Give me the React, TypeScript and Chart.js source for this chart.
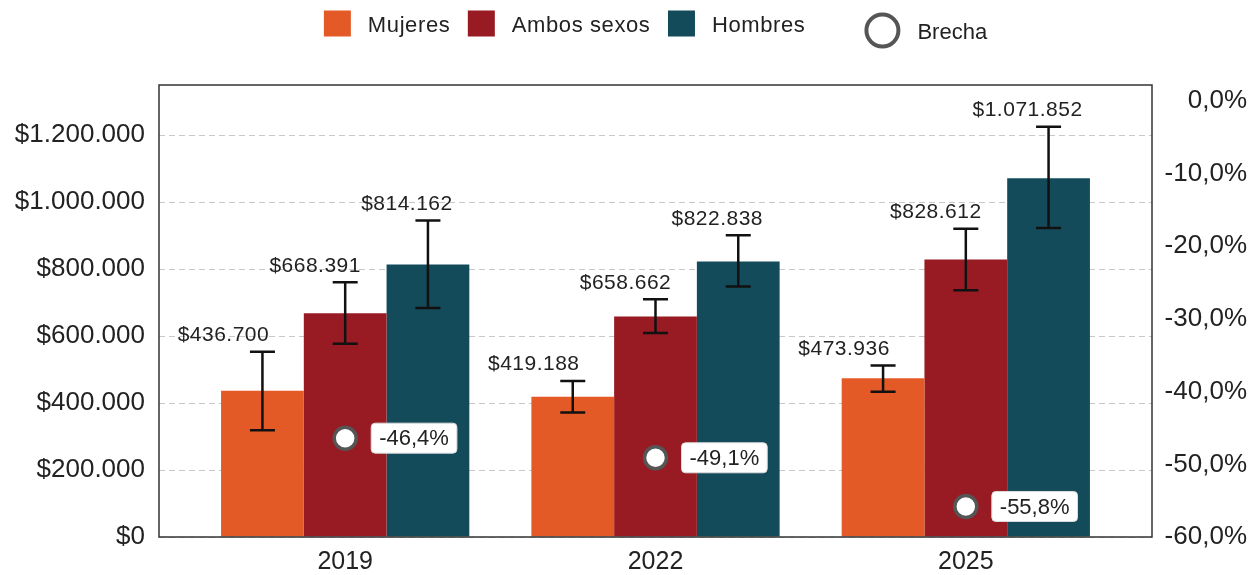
import React, { useEffect, useRef } from "react";
import { Chart, registerables } from "chart.js";

Chart.register(...registerables);

// ---- Data ----
const years = ["2019", "2022", "2025"];
const mujeres = [436700, 419188, 473936];
const ambos = [668391, 658662, 828612];
const hombres = [814162, 822838, 1071852];
const mujeresLow = [319000, 372000, 434000];
const mujeresHigh = [553000, 466000, 512000];
const ambosLow = [577000, 609000, 737000];
const ambosHigh = [761000, 710000, 921000];
const hombresLow = [684000, 748000, 923000];
const hombresHigh = [945000, 901000, 1225000];
const brecha = [-46.4, -49.1, -55.8];
const leftTicks = [0, 200000, 400000, 600000, 800000, 1000000, 1200000];
const rightTicks = [-60, -50, -40, -30, -20, -10, 0];

const seriesNames = ["Mujeres", "Ambos sexos", "Hombres"];
const seriesColors = ["#E45A26", "#981A22", "#134B5B"];
const seriesValues = [mujeres, ambos, hombres];
const seriesLow = [mujeresLow, ambosLow, hombresLow];
const seriesHigh = [mujeresHigh, ambosHigh, hombresHigh];
const brechaName = "Brecha";

// ---- Styles ----
const FONT = '"Liberation Sans", Arial, Helvetica, sans-serif';
const TEXT = "#222222";
const labelShift = [-39, -30, -21];

const money = (v: number) =>
  "$" + Math.round(v).toString().replace(/\B(?=(\d{3})+(?!\d))/g, ".");
const pct = (v: number) => {
  const s = Math.abs(v) < 1e-9 ? "0.0" : v.toFixed(1);
  return s.replace(".", ",") + "%";
};

const overlayPlugin = {
  id: "overlay",
  afterDatasetsDraw(chart: any) {
    const ctx = chart.ctx as CanvasRenderingContext2D;
    const yScale = chart.scales.y;
    const area = chart.chartArea;
    ctx.save();

    // error bars + value labels
    seriesValues.forEach((vals, k) => {
      const meta = chart.getDatasetMeta(k + 1);
      meta.data.forEach((el: any, i: number) => {
        const x = el.x;
        const yl = yScale.getPixelForValue(seriesLow[k][i]);
        const yh = yScale.getPixelForValue(seriesHigh[k][i]);
        ctx.strokeStyle = "#111111";
        ctx.lineWidth = 2.5;
        ctx.beginPath();
        ctx.moveTo(x, yl);
        ctx.lineTo(x, yh);
        ctx.moveTo(x - 12.5, yl);
        ctx.lineTo(x + 12.5, yl);
        ctx.moveTo(x - 12.5, yh);
        ctx.lineTo(x + 12.5, yh);
        ctx.stroke();

        ctx.font = "21px " + FONT;
        (ctx as any).letterSpacing = "0.5px";
        ctx.fillStyle = TEXT;
        ctx.textAlign = "center";
        ctx.textBaseline = "alphabetic";
        ctx.fillText(money(vals[i]), x + labelShift[k], yh - 10.5);
      });
    });
    (ctx as any).letterSpacing = "0px";

    // brecha label boxes
    const pm = chart.getDatasetMeta(0);
    pm.data.forEach((pt: any, i: number) => {
      const txt = pct(brecha[i]);
      ctx.font = "22px " + FONT;
      const w = ctx.measureText(txt).width + 16;
      const bx = pt.x + 26;
      const by = pt.y - 15;
      ctx.beginPath();
      (ctx as any).roundRect(bx, by, w, 30, 4);
      ctx.fillStyle = "#ffffff";
      ctx.fill();
      ctx.strokeStyle = "#dddddd";
      ctx.lineWidth = 1;
      ctx.stroke();
      ctx.fillStyle = TEXT;
      ctx.textAlign = "left";
      ctx.textBaseline = "middle";
      ctx.fillText(txt, bx + 8, pt.y + 1);
    });

    // plot frame
    ctx.strokeStyle = "#333333";
    ctx.lineWidth = 1.5;
    ctx.strokeRect(area.left, area.top, area.right - area.left, area.bottom - area.top);
    ctx.restore();
  },
  afterDraw(chart: any) {
    // legend
    const ctx = chart.ctx as CanvasRenderingContext2D;
    const area = chart.chartArea;
    ctx.save();
    ctx.font = "22px " + FONT;
    (ctx as any).letterSpacing = "0.6px";
    const widths = seriesNames.map((n) => ctx.measureText(n).width);
    (ctx as any).letterSpacing = "0px";
    const bw = ctx.measureText(brechaName).width;
    const total =
      widths.reduce((a, w) => a + 27 + 17 + w, 0) + 17.5 * 2 + 59 + 36 + 17 + bw;
    let x = (area.left + area.right) / 2 - total / 2;
    seriesNames.forEach((n, k) => {
      ctx.fillStyle = seriesColors[k];
      ctx.fillRect(x, 10.5, 27, 26);
      x += 27 + 17;
      ctx.fillStyle = TEXT;
      ctx.textAlign = "left";
      ctx.textBaseline = "alphabetic";
      (ctx as any).letterSpacing = "0.6px";
      ctx.fillText(n, x, 31.5);
      (ctx as any).letterSpacing = "0px";
      x += widths[k];
      if (k < seriesNames.length - 1) x += 17.5;
    });
    x += 59;
    ctx.beginPath();
    ctx.arc(x + 18, 30.5, 16, 0, Math.PI * 2);
    ctx.fillStyle = "#ffffff";
    ctx.fill();
    ctx.lineWidth = 4;
    ctx.strokeStyle = "#555555";
    ctx.stroke();
    x += 36 + 17;
    ctx.fillStyle = TEXT;
    ctx.fillText(brechaName, x, 38.5);
    ctx.restore();
  },
};

export default function App() {
  const ref = useRef<HTMLCanvasElement | null>(null);

  useEffect(() => {
    if (!ref.current) return;
    const chart = new Chart(ref.current, {
      type: "bar",
      data: {
        datasets: [
          {
            type: "line",
            label: brechaName,
            data: brecha.map((y, i) => ({ x: i, y })),
            yAxisID: "y1",
            showLine: false,
            pointRadius: 11,
            pointBorderWidth: 3.5,
            pointBackgroundColor: "#ffffff",
            pointBorderColor: "#555555",
            order: 0,
          } as any,
          ...seriesNames.map((name, k) => ({
            type: "bar",
            label: name,
            data: seriesValues[k].map((y, i) => ({ x: i, y })),
            backgroundColor: seriesColors[k],
            yAxisID: "y",
            categoryPercentage: 0.8,
            barPercentage: 1,
            order: 1,
          })),
        ] as any,
      },
      options: {
        responsive: true,
        maintainAspectRatio: false,
        animation: false,
        layout: { padding: { top: 85, left: 0, right: 6, bottom: 0 } },
        plugins: {
          legend: { display: false },
          tooltip: { enabled: false },
        },
        scales: {
          x: {
            type: "linear",
            min: -0.6,
            max: 2.6,
            offset: false,
            grid: { display: false, offset: false } as any,
            border: { display: false },
            afterBuildTicks: (s: any) => {
              s.ticks = years.map((_, i) => ({ value: i }));
            },
            afterFit: (s: any) => {
              s.height = 38;
            },
            ticks: {
              autoSkip: false,
              maxRotation: 0,
              padding: 2,
              color: TEXT,
              font: { size: 25, family: FONT },
              callback: (_v: any, i: number) => years[i],
            },
          },
          y: {
            type: "linear",
            position: "left",
            min: 0,
            max: 1350000,
            grid: { color: "#c8c8c8", lineWidth: 1, drawTicks: false },
            border: { display: false, dash: [6, 4] },
            afterBuildTicks: (s: any) => {
              s.ticks = leftTicks.map((v) => ({ value: v }));
            },
            afterFit: (s: any) => {
              s.width = 159;
            },
            ticks: {
              autoSkip: false,
              padding: 14,
              color: TEXT,
              font: { size: 26, family: FONT },
              callback: (v: any) => money(Number(v)),
            },
          },
          y1: {
            type: "linear",
            position: "right",
            min: -60,
            max: 2.2,
            grid: { display: false, drawTicks: false },
            border: { display: false },
            afterBuildTicks: (s: any) => {
              s.ticks = rightTicks.map((v) => ({ value: v }));
            },
            afterFit: (s: any) => {
              s.width = 95;
            },
            ticks: {
              autoSkip: false,
              padding: 7,
              crossAlign: "far",
              color: TEXT,
              font: { size: 26, family: FONT },
              callback: (v: any) => pct(Number(v)),
            },
          },
        },
      } as any,
      plugins: [overlayPlugin],
    });
    return () => chart.destroy();
  }, []);

  return (
    <div style={{ position: "absolute", left: 0, top: 0, width: "1253px", height: "575px" }}>
      <canvas ref={ref} />
    </div>
  );
}
